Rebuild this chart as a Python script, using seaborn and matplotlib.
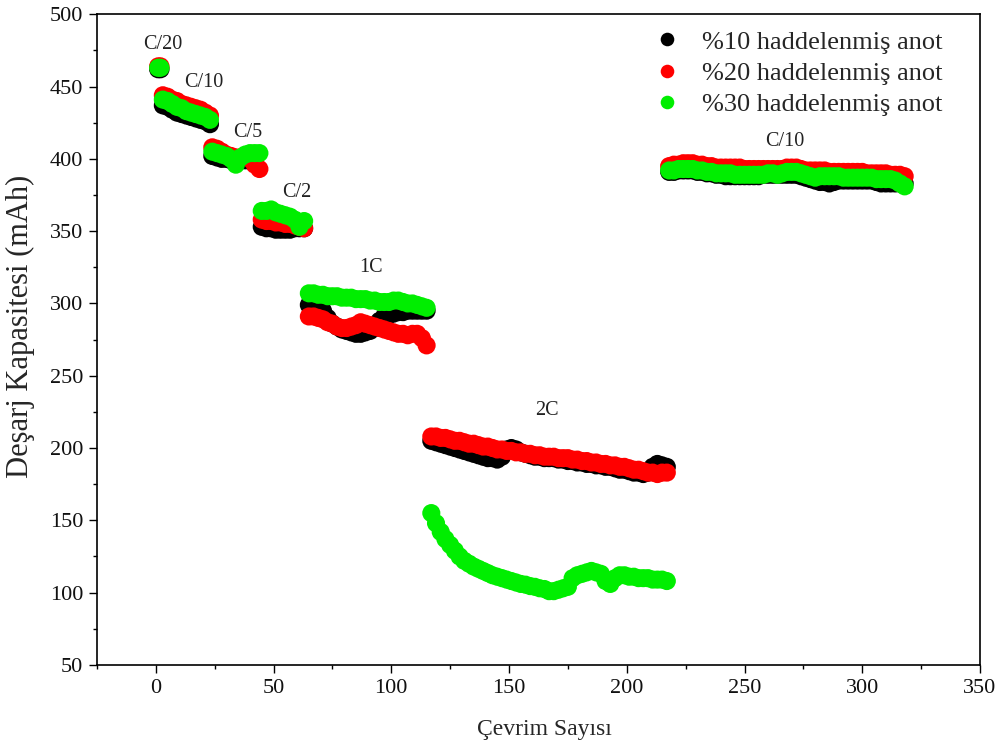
import numpy as np
import pandas as pd
import matplotlib
matplotlib.use("Agg")
import matplotlib.pyplot as plt
from matplotlib.ticker import MultipleLocator
import seaborn as sns

# ---------------- data ----------------
series_names = ["%10 haddelenmiş anot", "%20 haddelenmiş anot", "%30 haddelenmiş anot"]
series_colors = ["#000000", "#ff0000", "#00ee00"]

# segment start cycles (values listed every 2 cycles from the start)
seg_starts = [1, 3, 24, 45, 65, 117, 218]

# %10
black_c20 = [462, 462]
black_c10 = [437, 436, 434, 432, 431, 430, 429, 428, 427, 426, 424]
black_c5 = [402, 401, 400, 400, 399, 399, 399, 399, 399, 398]
black_c2 = [353, 352, 352, 351, 351, 351, 351, 352, 352, 352]
black_1c = [299, 298, 297, 295, 290, 286, 284, 282, 281, 280, 279, 279, 280,
            281, 283, 288, 291, 292, 293, 294, 294, 295, 295, 295, 295, 295]
black_2c = [205, 204, 203, 202, 201, 200, 199, 198, 197, 196, 195, 194, 193,
            193, 192, 194, 199, 200, 199, 197, 196, 195, 194, 194, 193, 193,
            193, 192, 192, 191, 191, 190, 190, 189, 189, 188, 188, 187, 187,
            186, 185, 185, 184, 183, 183, 182, 183, 187, 189, 188, 187]
black_c10b = [391, 391, 392, 392, 392, 392, 391, 391, 390, 390, 389, 389, 388,
              388, 388, 388, 388, 388, 388, 388, 389, 389, 389, 389, 389, 389,
              389, 389, 388, 387, 386, 385, 384, 384, 383, 384, 385, 385, 385,
              385, 385, 385, 385, 385, 384, 383, 383, 383, 383, 383, 383]

# %20
red_c20 = [464, 464]
red_c10 = [444, 443, 441, 440, 438, 437, 436, 435, 434, 432, 430]
red_c5 = [408, 407, 405, 403, 402, 401, 401, 402, 400, 396, 393]
red_c2 = [358, 357, 357, 356, 356, 355, 355, 354, 353, 352]
red_1c = [291, 291, 290, 289, 287, 286, 284, 283, 283, 284, 285, 287, 286,
          285, 284, 283, 282, 281, 280, 279, 279, 278, 279, 279, 276, 271]
red_2c = [208, 208, 207, 207, 206, 205, 205, 204, 203, 203, 202, 201, 201,
          200, 199, 199, 198, 198, 197, 197, 196, 196, 195, 195, 194, 194,
          194, 193, 193, 193, 192, 192, 191, 191, 190, 190, 189, 189, 188,
          188, 187, 187, 186, 185, 185, 184, 183, 183, 182, 183, 183]
red_c10b = [395, 396, 396, 397, 397, 397, 396, 396, 395, 395, 394, 394, 394,
            394, 394, 394, 393, 393, 393, 393, 393, 393, 393, 393, 393, 394,
            394, 394, 393, 392, 392, 392, 392, 392, 391, 391, 391, 391, 391,
            391, 391, 391, 390, 390, 390, 390, 390, 389, 389, 389, 388]

# %30
green_c20 = [463, 463]
green_c10 = [441, 440, 438, 436, 435, 433, 432, 431, 430, 429, 427]
green_c5 = [405, 404, 403, 402, 400, 396, 401, 403, 404, 404, 404]
green_c2 = [364, 364, 365, 363, 362, 361, 360, 358, 353, 357]
green_1c = [307, 307, 306, 306, 305, 305, 305, 304, 304, 304, 303, 303, 303,
            302, 302, 301, 301, 301, 302, 302, 301, 300, 300, 299, 298, 297]
green_2c = [155, 148, 142, 137, 133, 129, 125, 122, 120, 118, 116.5, 115,
            113.5, 112, 111, 110, 109, 108, 107, 106, 105.5, 104.5, 104, 103,
            102.5, 101, 101, 102, 103, 104, 110, 112, 113, 114, 115, 114, 113,
            108, 106, 110, 112, 112, 111, 111, 110, 110, 110, 109, 109, 109, 108]
green_c10b = [392, 392, 393, 393, 393, 393, 392, 392, 391, 391, 390, 390, 390,
              390, 389, 389, 389, 389, 389, 389, 389, 390, 390, 389, 390, 391,
              391, 391, 390, 389, 388, 387, 388, 388, 388, 388, 388, 387, 387,
              387, 387, 387, 387, 387, 386, 386, 386, 386, 385, 383, 381]

# rate labels: text, x, y
rate_labels = ["C/20", "C/10", "C/5", "C/2", "1C", "2C", "C/10"]
rate_x = [3, 20.5, 39, 60, 91.5, 166, 267]
rate_y = [479, 453, 418, 377, 325, 226, 412]

# ---------------- build table ----------------
all_segments = [
    [black_c20, black_c10, black_c5, black_c2, black_1c, black_2c, black_c10b],
    [red_c20, red_c10, red_c5, red_c2, red_1c, red_2c, red_c10b],
    [green_c20, green_c10, green_c5, green_c2, green_1c, green_2c, green_c10b],
]
rows = []
for name, segs in zip(series_names, all_segments):
    for start, vals in zip(seg_starts, segs):
        step = 1 if start == 1 else 2
        for i, v in enumerate(vals):
            rows.append((name, start + step * i, v))
df = pd.DataFrame(rows, columns=["seri", "cycle", "cap"])

# ---------------- plot ----------------
sns.set_style("ticks")
plt.rcParams["font.family"] = ["Liberation Serif", "DejaVu Serif"]

fig = plt.figure(figsize=(9.99, 7.53), dpi=100)
ax = fig.add_axes([0.097, 0.117, 0.884, 0.864])

sns.scatterplot(data=df, x="cycle", y="cap", hue="seri",
                hue_order=series_names,
                palette=dict(zip(series_names, series_colors)),
                s=170, linewidth=0, edgecolor="none", alpha=1.0, ax=ax)

for t, x, y in zip(rate_labels, rate_x, rate_y):
    ax.text(x, y, t, ha="center", va="center", fontsize=14.5, color="#222222")

ax.set_xlim(-25, 350)
ax.set_ylim(50, 500)
ax.xaxis.set_major_locator(MultipleLocator(50))
ax.xaxis.set_minor_locator(MultipleLocator(25))
ax.yaxis.set_major_locator(MultipleLocator(50))
ax.yaxis.set_minor_locator(MultipleLocator(25))
ax.tick_params(which="major", direction="out", length=6, width=1,
               labelsize=16, color="black", labelcolor="#111111", pad=4)
ax.tick_params(which="minor", direction="out", length=3, width=1, color="black")
for sp in ax.spines.values():
    sp.set_visible(True)
    sp.set_color("black")
    sp.set_linewidth(1.2)

ax.set_xlabel("Çevrim Sayısı", fontsize=17)
ax.xaxis.set_label_coords(0.507, -0.083)
ax.set_ylabel("Deşarj Kapasitesi (mAh)", fontsize=22)
ax.yaxis.set_label_coords(-0.070, 0.521)

leg = ax.legend(loc="upper right", frameon=False, fontsize=19,
                markerscale=0.75, handletextpad=0.3, labelspacing=0.3,
                borderaxespad=0.2, bbox_to_anchor=(0.975, 1.0))
ax.grid(False)

fig.savefig("out.png", dpi=100)
